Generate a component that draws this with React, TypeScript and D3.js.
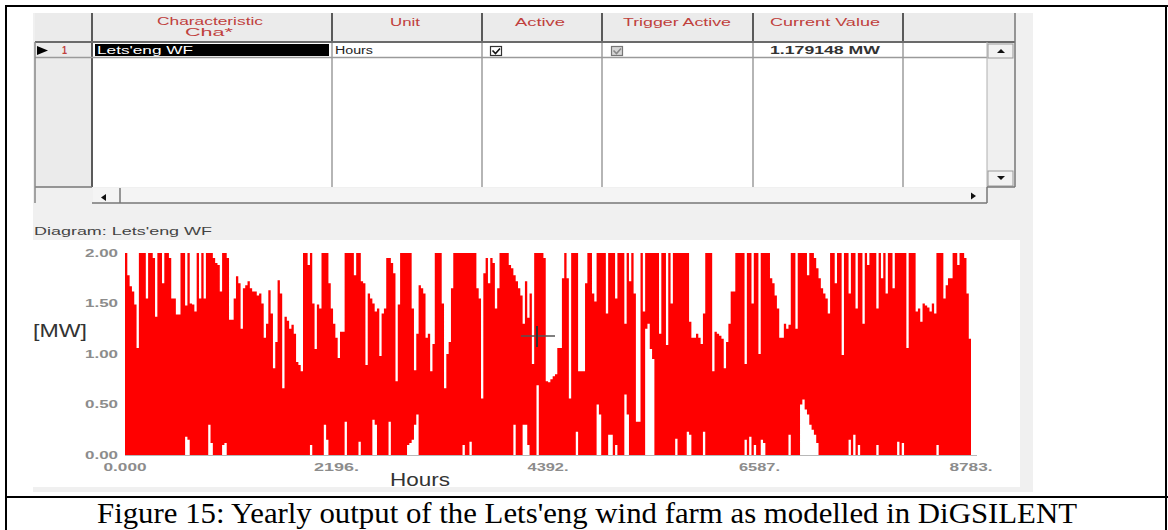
import React from 'react';
import * as d3 from 'd3';

// Time axis of the yearly characteristic, in hours
const hourDomain = [0, 8783];
const xTickValues = [0, 2196, 4392, 6587, 8783];
const xTickLabels = ['0.000', '2196.', '4392.', '6587.', '8783.'];
const yTickValues = [0, 0.5, 1.0, 1.5, 2.0];
const yTickLabels = ['0.00', '0.50', '1.00', '1.50', '2.00'];

// Daily maximum of the wind farm output [MW], day 0 .. 365
const dailyMax = [
  2.00, 1.78, 1.67, 1.62, 1.49, 1.06, 2.00, 2.00, 2.00, 1.55,
  2.00, 2.00, 1.95, 1.37, 2.00, 2.00, 1.70, 2.00, 2.00, 1.95,
  1.55, 1.55, 1.39, 1.39, 2.00, 2.00, 1.48, 2.00, 1.50, 1.49,
  1.42, 2.00, 1.55, 2.00, 1.55, 2.00, 2.00, 2.00, 1.95, 1.90,
  1.88, 1.62, 2.00, 2.00, 1.95, 1.34, 1.34, 1.55, 1.77, 1.70,
  1.25, 1.65, 1.68, 1.72, 1.65, 1.62, 1.62, 1.58, 1.60, 1.50,
  1.16, 1.30, 1.63, 1.40, 0.86, 1.12, 1.73, 1.60, 0.66, 1.37,
  1.33, 1.25, 1.29, 1.20, 0.92, 0.89, 0.83, 2.00, 2.00, 1.88,
  2.00, 1.50, 1.05, 1.49, 1.45, 2.00, 2.00, 2.00, 1.70, 1.45,
  1.30, 1.16, 0.96, 1.22, 1.22, 2.00, 2.00, 2.00, 2.00, 1.78,
  2.00, 2.00, 1.72, 1.70, 0.89, 1.60, 1.55, 1.50, 1.42, 1.45,
  0.98, 1.40, 1.45, 1.95, 1.95, 1.90, 1.80, 0.73, 1.49, 2.00,
  2.00, 2.00, 2.00, 2.00, 1.45, 0.84, 1.20, 1.68, 1.65, 1.60,
  1.16, 1.20, 0.83, 1.10, 2.00, 2.00, 2.00, 1.50, 0.66, 1.00,
  1.12, 1.65, 2.00, 2.00, 2.00, 2.00, 2.00, 2.00, 2.00, 2.00,
  2.00, 2.00, 1.65, 1.55, 0.56, 1.80, 1.95, 1.70, 1.95, 1.90,
  1.45, 1.65, 2.00, 2.00, 2.00, 2.00, 1.88, 1.85, 1.78, 1.72,
  1.65, 1.58, 1.30, 1.72, 1.36, 1.60, 0.90, 2.00, 2.00, 2.00,
  2.00, 1.95, 0.73, 0.72, 0.75, 0.78, 0.80, 1.06, 1.06, 1.75,
  2.00, 1.75, 0.56, 2.00, 2.00, 2.00, 0.83, 0.83, 0.83, 1.70,
  2.00, 2.00, 1.60, 1.52, 2.00, 2.00, 2.00, 2.00, 1.40, 2.00,
  2.00, 2.00, 1.55, 2.00, 2.00, 2.00, 1.30, 2.00, 1.72, 2.00,
  1.60, 0.33, 0.33, 2.00, 1.42, 2.00, 2.00, 2.00, 2.00, 2.00,
  2.00, 1.20, 2.00, 2.00, 1.09, 2.00, 1.50, 2.00, 2.00, 2.00,
  2.00, 2.00, 2.00, 2.00, 1.32, 1.16, 1.16, 1.20, 1.16, 1.10,
  1.40, 2.00, 2.00, 2.00, 0.83, 1.22, 1.20, 1.18, 1.15, 0.86,
  1.12, 1.30, 1.62, 1.62, 2.00, 2.00, 2.00, 2.00, 0.90, 2.00,
  2.00, 1.50, 2.00, 2.00, 1.00, 2.00, 2.00, 2.00, 2.00, 1.75,
  1.70, 1.58, 1.45, 1.16, 1.16, 1.30, 1.25, 1.29, 2.00, 2.00,
  1.25, 2.00, 2.00, 2.00, 2.00, 1.78, 2.00, 2.00, 1.95, 1.85,
  1.75, 1.65, 1.60, 1.55, 1.40, 2.00, 2.00, 1.70, 2.00, 2.00,
  0.99, 2.00, 2.00, 1.60, 2.00, 2.00, 1.45, 2.00, 2.00, 1.30,
  2.00, 1.88, 2.00, 2.00, 2.00, 1.45, 2.00, 1.75, 2.00, 1.60,
  2.00, 2.00, 1.65, 2.00, 2.00, 2.00, 2.00, 2.00, 1.06, 2.00,
  2.00, 2.00, 1.42, 1.45, 1.32, 1.50, 1.48, 1.46, 1.42, 1.50,
  1.40, 2.00, 2.00, 2.00, 1.55, 1.68, 1.75, 1.75, 2.00, 2.00,
  1.88, 2.00, 2.00, 1.95, 1.60, 1.15,
];

// Daily minimum of the wind farm output [MW], day 0 .. 365
const dailyMin = [
  0, 0, 0, 0, 0, 0, 0, 0, 0, 0, 0, 0, 0, 0, 0, 0, 0, 0, 0, 0,
  0, 0, 0, 0, 0, 0, 0.18, 0.15, 0, 0, 0, 0, 0, 0, 0, 0, 0.30, 0.12, 0, 0,
  0, 0, 0.10, 0.12, 0, 0, 0, 0, 0, 0, 0, 0, 0, 0, 0, 0, 0, 0, 0, 0,
  0, 0, 0, 0, 0, 0, 0, 0, 0, 0, 0, 0, 0, 0, 0, 0, 0, 0, 0, 0,
  0.10, 0, 0, 0, 0, 0, 0.30, 0.15, 0, 0, 0, 0, 0, 0, 0, 0.33, 0, 0, 0, 0,
  0, 0.13, 0, 0, 0, 0, 0, 0.35, 0.30, 0, 0, 0, 0, 0, 0.33, 0, 0, 0, 0, 0,
  0, 0, 0.10, 0.12, 0.15, 0.30, 0.40, 0, 0, 0, 0, 0, 0, 0, 0, 0, 0, 0, 0, 0,
  0, 0, 0, 0, 0, 0, 0.10, 0, 0, 0.13, 0, 0, 0, 0, 0, 0, 0, 0, 0, 0,
  0, 0, 0, 0, 0, 0, 0, 0, 0.30, 0, 0, 0, 0.30, 0.30, 0.10, 0, 0, 0, 0.69, 0,
  0, 0, 0, 0, 0, 0, 0, 0, 0, 0, 0, 0, 0, 0, 0, 0.23, 0, 0, 0, 0,
  0, 0, 0, 0, 0.50, 0.40, 0, 0, 0, 0.20, 0.20, 0, 0.10, 0, 0, 0, 0.60, 0.40, 0, 0,
  0, 0, 0, 0, 0, 1.25, 1.30, 1.05, 0.95, 0, 0, 0, 0, 0, 0, 0, 0, 0, 0.16, 0,
  0, 0, 0, 0.23, 0.20, 0, 0, 0, 0, 0, 0.23, 0, 0, 0, 0, 0, 0, 0, 0, 0,
  0, 0, 0, 0, 0, 0, 0, 0, 0.15, 0, 0.18, 0, 0.10, 0, 0, 0.15, 0.12, 0, 0, 0,
  0, 0, 0, 0, 0, 0, 0, 0.20, 0, 0, 0, 0, 0.50, 0.55, 0.45, 0.40, 0.30, 0.25, 0.20, 0.12,
  0, 0, 0, 0, 0, 0, 0, 0, 0, 0, 0, 0, 0, 0.15, 0, 0.20, 0, 0.10, 0, 0,
  0, 0, 0, 0, 0, 0.10, 0, 0, 0, 0, 0, 0, 0, 0, 0.13, 0, 0.12, 0, 0, 0,
  0, 0, 0, 0, 0, 0, 0, 0, 0, 0, 0, 0.10, 0, 0, 0, 0, 0, 0, 0, 0,
  0, 0, 0, 0, 0, 0,
];

// Characteristic table contents
const headerLabels = ['Characteristic', 'Cha*', 'Unit', 'Active', 'Trigger Active', 'Current Value'];
const rowNumber = '1';
const rowName = "Lets'eng WF";
const rowUnit = 'Hours';
const rowCurrent = '1.179148 MW';
const diagramTitle = "Diagram: Lets'eng WF";
const yAxisTitle = '[MW]';
const xAxisTitle = 'Hours';
const caption = "Figure 15: Yearly output of the Lets'eng wind farm as modelled in DiGSILENT";

const UI_FONT = 'Arial, "Liberation Sans", sans-serif';
const HEADER_RED = '#c0403c';

type TProps = {
  x: number; y: number; w: number; size?: number; fill?: string;
  weight?: string | number; family?: string; children: React.ReactNode;
};

// Widely set GUI text (the dialog was captured with a horizontal stretch)
function T({ x, y, w, size = 10, fill = '#222', weight = 'normal', family = UI_FONT, children }: TProps) {
  return (
    <text x={x} y={y} fontSize={size} fill={fill} fontWeight={weight} fontFamily={family}
      textLength={w} lengthAdjust="spacingAndGlyphs">{children}</text>
  );
}

export default function App() {
  const x = d3.scaleLinear().domain(hourDomain).range([125, 971]);
  const y = d3.scaleLinear().domain([0, 2]).range([455, 253]);

  type P = { h: number; lo: number; hi: number };
  const pts: P[] = dailyMax.map((hi, d) => ({ h: d * 24, lo: dailyMin[d], hi }));
  const last = pts[pts.length - 1];
  pts.push({ h: hourDomain[1], lo: last.lo, hi: last.hi });

  const area = d3.area<P>()
    .x((p) => x(p.h))
    .y0((p) => y(p.lo))
    .y1((p) => y(p.hi))
    .curve(d3.curveStepAfter);

  const xLabelW = [43, 45, 41, 41, 43];

  return (
    <svg width={1168} height={530} style={{ position: 'absolute', left: 0, top: 0, background: '#fff' }}>
      <rect x={0} y={0} width={1168} height={530} fill="#fff" />

      {/* dialog panel */}
      <rect x={33} y={13} width={1000} height={479} fill="#f0f0f0" />

      {/* table: body, header row, row-header column */}
      <rect x={92} y={42} width={895} height={145} fill="#fff" />
      <rect x={35} y={13} width={980} height={29} fill="#ebebeb" />
      <rect x={35} y={42} width={57} height={145} fill="#ebebeb" />

      {/* header separators */}
      {[92, 332, 482, 602, 753, 903].map((cx) => (
        <line key={'hv' + cx} x1={cx} y1={13} x2={cx} y2={42} stroke="#5a5a5a" strokeWidth={2} />
      ))}
      {/* body column lines */}
      {[332, 482, 602, 753, 903].map((cx) => (
        <line key={'bv' + cx} x1={cx} y1={42} x2={cx} y2={187} stroke="#9c9c9c" strokeWidth={1.5} />
      ))}
      <line x1={92} y1={42} x2={92} y2={187} stroke="#5a5a5a" strokeWidth={2} />
      <line x1={35} y1={42} x2={1015} y2={42} stroke="#6a6a6a" strokeWidth={2} />
      <line x1={35} y1={57.5} x2={987} y2={57.5} stroke="#9a9a9a" strokeWidth={1.5} />
      <line x1={35} y1={187} x2={92} y2={187} stroke="#777" strokeWidth={1.5} />
      <line x1={35} y1={42} x2={35} y2={203} stroke="#888" strokeWidth={1.5} />

      {/* header labels */}
      <T x={157} y={25} w={106} fill={HEADER_RED}>{headerLabels[0]}</T>
      <T x={185} y={36} w={48} fill={HEADER_RED}>{headerLabels[1]}</T>
      <T x={390} y={26} w={30} fill={HEADER_RED}>{headerLabels[2]}</T>
      <T x={515} y={26} w={50} fill={HEADER_RED}>{headerLabels[3]}</T>
      <T x={623} y={26} w={108} fill={HEADER_RED}>{headerLabels[4]}</T>
      <T x={770} y={26} w={110} fill={HEADER_RED}>{headerLabels[5]}</T>

      {/* row 1 */}
      <path d="M37,46 L48,50.5 L37,55 Z" fill="#000" />
      <T x={62} y={54} w={5} fill={HEADER_RED} weight="bold">{rowNumber}</T>
      <rect x={95} y={44} width={234} height={12} fill="#000" />
      <T x={97} y={54} w={96} fill="#fff">{rowName}</T>
      <T x={335} y={54} w={38}>{rowUnit}</T>
      <rect x={490.5} y={46.5} width={11} height={9} fill="#fff" stroke="#333" strokeWidth={1.2} />
      <path d="M492.5,50.5 L495.5,53.5 L500,48.5" fill="none" stroke="#111" strokeWidth={1.6} />
      <rect x={611.5} y={46.5} width={11} height={9} fill="#d6d6d6" stroke="#777" strokeWidth={1.2} />
      <path d="M613.5,50.5 L616.5,53.5 L621,48.5" fill="none" stroke="#888" strokeWidth={1.6} />
      <T x={770} y={54} w={110} weight="bold" fill="#333">{rowCurrent}</T>

      {/* vertical scroll bar */}
      <line x1={987} y1={42} x2={987} y2={187} stroke="#b0b0b0" strokeWidth={1} />
      <line x1={1015} y1={13} x2={1015} y2={187} stroke="#777" strokeWidth={1.5} />
      <rect x={988} y={44} width={25} height={14} fill="#f2f2f2" stroke="#999" strokeWidth={1} />
      <path d="M997,53 L1001,49 L1005,53 Z" fill="#111" />
      <rect x={988} y={171} width={25} height={15} fill="#f2f2f2" stroke="#999" strokeWidth={1} />
      <path d="M997,176 L1001,180 L1005,176 Z" fill="#111" />

      {/* horizontal scroll bar */}
      <rect x={93} y={188} width={894} height={15} fill="#f4f4f4" />
      <path d="M106,194 L101,197.5 L106,201 Z" fill="#111" />
      <line x1={120} y1={188} x2={120} y2={203} stroke="#777" strokeWidth={1.5} />
      <line x1={92} y1={203} x2={987} y2={203} stroke="#777" strokeWidth={1.5} />
      <line x1={987} y1={187} x2={987} y2={203} stroke="#777" strokeWidth={1.5} />
      <line x1={987} y1={187} x2={1015} y2={187} stroke="#777" strokeWidth={1.5} />
      <path d="M971,192.5 L976,196 L971,199.5 Z" fill="#111" />

      {/* diagram title */}
      <T x={34} y={235} w={178} fill="#444">{diagramTitle}</T>

      {/* plot panel */}
      <rect x={33} y={240} width={987} height={247} fill="#fff" />

      {/* output series */}
      <path d={area(pts) ?? ''} fill="#ff0000" />

      {/* x axis base line */}
      <line x1={x(0)} y1={y(0) + 0.5} x2={977} y2={y(0) + 0.5} stroke="#b8b8b8" strokeWidth={1} />

      {/* y tick labels */}
      {yTickValues.map((v, i) => (
        <T key={'yt' + i} x={85} y={y(v) + 3.5} w={33} fill="#8c8c8c" weight="bold">{yTickLabels[i]}</T>
      ))}
      {/* x tick labels */}
      {xTickValues.map((v, i) => (
        <T key={'xt' + i} x={x(v) - xLabelW[i] / 2} y={471} w={xLabelW[i]} fill="#8c8c8c" weight="bold">{xTickLabels[i]}</T>
      ))}

      {/* axis titles */}
      <T x={33} y={337} w={54} size={19} fill="#333">{yAxisTitle}</T>
      <T x={390} y={486} w={60} size={19} fill="#333">{xAxisTitle}</T>

      {/* cursor */}
      <line x1={521} y1={336} x2={555} y2={336} stroke="#555" strokeWidth={1.5} />
      <line x1={537} y1={326} x2={537} y2={347} stroke="#333" strokeWidth={2} />

      {/* document table frame */}
      <line x1={5} y1={6} x2={1168} y2={6} stroke="#000" strokeWidth={2} />
      <line x1={6} y1={6} x2={6} y2={530} stroke="#000" strokeWidth={2} />
      <line x1={1166} y1={6} x2={1166} y2={530} stroke="#000" strokeWidth={2} />
      <line x1={5} y1={497} x2={1168} y2={497} stroke="#000" strokeWidth={2} />

      {/* caption */}
      <text x={97} y={523} fontSize={29} fontFamily='"Times New Roman", "Liberation Serif", serif'
        fill="#000" textLength={980} lengthAdjust="spacingAndGlyphs">{caption}</text>
    </svg>
  );
}
